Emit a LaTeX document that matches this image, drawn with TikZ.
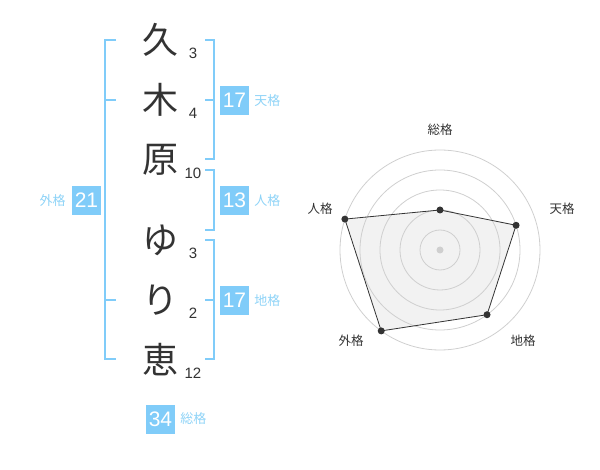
\documentclass[tikz,border=0pt]{standalone}
\usepackage{fontspec}
\setmainfont{Noto Sans CJK JP}
\newfontfamily\latinsans{Liberation Sans}
\usetikzlibrary{calc, positioning}
\definecolor{kakublue}{HTML}{80CCF9}
\definecolor{kakutext}{HTML}{8ED3F7}
\definecolor{inkgray}{HTML}{333333}
\definecolor{ringgray}{HTML}{CFCFCF}
\definecolor{areagray}{HTML}{F2F2F2}

\begin{document}
\begin{tikzpicture}[x=1pt,y=-1pt]
        \tikzset{
            moji/.style={text=inkgray, inner sep=0pt, font=\fontsize{36}{36}\selectfont},
            kakusu/.style={text=inkgray, inner sep=0pt, font=\latinsans\fontsize{15}{15}\selectfont},
            numbox/.style={fill=kakublue, text=white, minimum size=29pt, inner sep=0pt, font=\latinsans\fontsize{21}{21}\selectfont},
            kakuname/.style={text=kakutext, inner sep=0pt, font=\fontsize{13}{13}\selectfont},
            bracket/.style={draw=kakublue, line width=2.5pt},
            ring/.style={draw=ringgray, line width=0.8pt},
            axisname/.style={text=inkgray, inner sep=0pt, font=\fontsize{12.5}{12.5}\selectfont}}

        \useasboundingbox (0,0) rectangle (600,470);

        % name, one character per row
        \node[moji] (m1) at (160,40) {久};
        \node[moji] (m2) at (160,100) {木};
        \node[moji] (m3) at (160,160) {原};
        \node[moji] (m4) at (160,240) {ゆ};
        \node[moji] (m5) at (160,300) {り};
        \node[moji] (m6) at (160,360) {恵};

        \node[kakusu] (s1) at (193,53) {3};
        \node[kakusu] (s2) at (193,113) {4};
        \node[kakusu] (s3) at (193,173) {10};
        \node[kakusu] (s4) at (193,253) {3};
        \node[kakusu] (s5) at (193,313) {2};
        \node[kakusu] (s6) at (193,373) {12};

        % brackets
        \draw[bracket] (116,40) -- (105,40) -- (105,359) -- (116,359)
            (105,100) -- (116,100) (105,300) -- (116,300);
        \draw[bracket] (205,40) -- (214,40) -- (214,159) -- (205,159)
            (205,100) -- (214,100);
        \draw[bracket] (205,170) -- (214,170) -- (214,230) -- (205,230);
        \draw[bracket] (205,240) -- (214,240) -- (214,359) -- (205,359)
            (205,300) -- (214,300);

        % totals
        \node[numbox] (ten) at (234.5,100.5) {17};
        \node[kakuname, right=5pt of ten] (tenname) {天格};
        \node[numbox] (jin) at (234.5,200.5) {13};
        \node[kakuname, right=5pt of jin] (jinname) {人格};
        \node[numbox] (chi) at (234.5,300.5) {17};
        \node[kakuname, right=5pt of chi] (chiname) {地格};
        \node[numbox] (gai) at (86.5,200.5) {21};
        \node[kakuname, left=6pt of gai] (gainame) {外格};
        \node[numbox] (sou) at (160.5,419) {34};
        \node[kakuname, right=5pt of sou] (souname) {総格};

        % radar chart
        \coordinate (o) at (440,250);
        \foreach \axis/\ang/\val in {sou/-90/40, ten/-18/80, chi/54/80, gai/126/100, jin/198/100}
            \coordinate (p-\axis) at ($(o)+(\ang:\val)$);

        \fill[areagray] (p-sou) -- (p-ten) -- (p-chi) -- (p-gai) -- (p-jin) -- cycle;
        \foreach \r in {20,40,...,100}
            \draw[ring] (o) circle (\r);
        \draw[inkgray, line width=0.8pt] (p-sou) -- (p-ten) -- (p-chi) -- (p-gai) -- (p-jin) -- cycle;

        \foreach \point in {p-sou, p-ten, p-chi, p-gai, p-jin}
            \fill[inkgray] (\point) circle (3.5);
        \fill[ringgray] (o) circle (3.5);

        \node[axisname] (a-sou) at (440,130) {総格};
        \node[axisname] (a-ten) at (562,209) {天格};
        \node[axisname] (a-chi) at (523,341) {地格};
        \node[axisname] (a-gai) at (351,341) {外格};
        \node[axisname] (a-jin) at (320,209) {人格};
    \end{tikzpicture}
\end{document}
